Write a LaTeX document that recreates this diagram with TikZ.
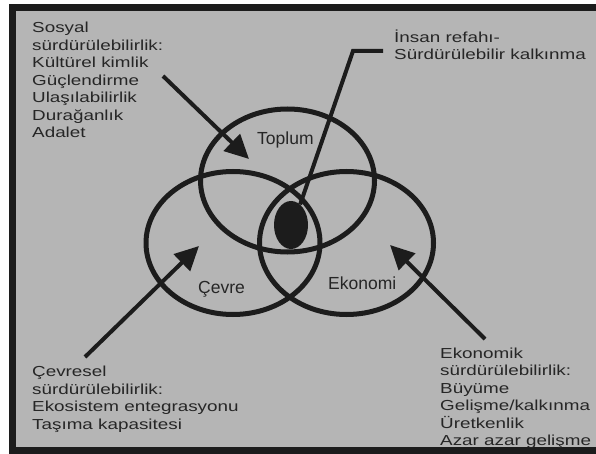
\documentclass[tikz,border=0pt]{standalone}
\usepackage{fontspec}
\setmainfont{Liberation Sans}
\newfontfamily\widesans{Liberation Sans}[FakeStretch=1.3]
\usetikzlibrary{arrows.meta,shapes.geometric}
\definecolor{panel}{RGB}{181,181,181}
\definecolor{ink}{RGB}{28,28,28}
\definecolor{txt}{RGB}{38,38,38}
\tikzset{
  ring/.style = {draw=ink, line width=5pt, ellipse, inner sep=0pt,
                 minimum width=174pt, minimum height=143pt},
  core/.style = {fill=ink, ellipse, inner sep=0pt,
                 minimum width=34pt, minimum height=48pt},
  note/.style = {anchor=base west, inner sep=0pt, align=left, text=txt,
                 font=\widesans\fontsize{14.5}{17.5}\selectfont},
  tag/.style  = {anchor=base west, inner sep=0pt, text=txt,
                 font=\fontsize{17.5}{20}\selectfont},
  ar/.style   = {draw=ink, line width=4pt, -{Triangle[length=24pt,width=23pt]}},
  lead/.style = {draw=ink, line width=4pt}
}

\begin{document}
\begin{tikzpicture}[x=1pt, y=-1pt]
  \useasboundingbox (0,0) rectangle (596,454);
  \fill[white] (0,0) rectangle (596,454);
  \fill[ink] (9,4) rectangle (596,454);
  \fill[panel] (16,11) rectangle (596,447);
  % the three rings and the core
  \node[ring] (t) at (287.5,180.5) {};
  \node[ring] (c) at (233,243) {};
  \node[ring] (e) at (346.5,243) {};
  \node[core] (k) at (291,225) {};
  \node[tag] (tl) at (257,145) {Toplum};
  \node[tag] (cl) at (198,293) {Çevre};
  \node[tag] (el) at (328,289) {Ekonomi};
  % notes (base = last line)
  \node[note] (s) at (32,138) {Sosyal\\sürdürülebilirlik:\\Kültürel kimlik\\Güçlendirme\\Ulaşılabilirlik\\Durağanlık\\Adalet};
  \node[note] (i) at (394,60) {İnsan refahı-\\Sürdürülebilir kalkınma};
  \node[note] (v) at (32,429) {Çevresel\\sürdürülebilirlik:\\Ekosistem entegrasyonu\\Taşıma kapasitesi};
  \node[note] (m) at (440,445.5) {Ekonomik\\sürdürülebilirlik:\\Büyüme\\Gelişme/kalkınma\\Üretkenlik\\Azar azar gelişme};
  % arrows
  \coordinate (s0) at (163,76);  \coordinate (s1) at (249,159);
  \coordinate (v0) at (85,357);  \coordinate (v1) at (199,246);
  \coordinate (m0) at (485,339); \coordinate (m1) at (390,245);
  \foreach \a/\b in {s0/s1,v0/v1,m0/m1}
    {\draw[ar] (\a) -- (\b);}
  \coordinate (i0) at (383,51);  \coordinate (i1) at (353,51);
  \draw[lead] (i0) -- (i1) -- (k.66);
\end{tikzpicture}
\end{document}
